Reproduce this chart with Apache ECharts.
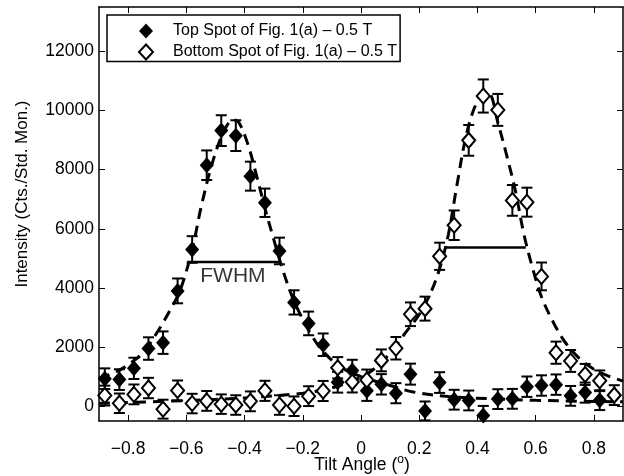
<!DOCTYPE html>
<html>
<head>
<meta charset="utf-8">
<script src="https://cdn.jsdelivr.net/npm/echarts@6/dist/echarts.min.js"></script>
<style>
html,body{margin:0;padding:0;background:#fff;}
#chart{width:624px;height:476px;}
</style>
</head>
<body>
<div id="chart"></div>
<script>
// ---- data ----
var tiltAngles = [-0.88,-0.83,-0.78,-0.73,-0.68,-0.63,-0.58,-0.53,-0.48,-0.43,-0.38,-0.33,-0.28,-0.23,-0.18,-0.13,-0.08,-0.03,0.02,0.07,0.12,0.17,0.22,0.27,0.32,0.37,0.42,0.47,0.52,0.57,0.62,0.67,0.72,0.77,0.82,0.87];

var topSpot = [930,900,1280,1950,2150,3900,5300,8150,9320,9150,7780,6880,5250,3510,2800,2080,810,1210,520,740,440,1085,-160,800,220,195,-310,240,250,660,700,730,350,460,205];
var topErr  = [350,350,360,380,380,420,450,500,520,520,490,480,450,410,400,380,350,360,340,345,340,355,320,350,335,335,320,335,335,345,345,345,335,340,335];

var bottomSpot = [360,100,400,615,-100,530,90,180,70,40,165,520,40,0,340,515,1300,815,890,1550,1960,3110,3300,5070,6120,8990,10490,10020,6960,6900,4390,1810,1530,1075,860,375];
var bottomErr  = [335,330,335,345,320,340,330,335,330,330,335,340,330,330,335,340,360,350,350,370,380,400,405,460,500,520,560,540,520,490,470,375,370,355,350,335];

var fitTopX = [-0.90,-0.85,-0.80,-0.75,-0.70,-0.65,-0.62,-0.58,-0.55,-0.52,-0.49,-0.46,-0.44,-0.42,-0.39,-0.36,-0.33,-0.30,-0.27,-0.24,-0.21,-0.17,-0.13,-0.07,0.00,0.10,0.18,0.30,0.45,0.60,0.75,0.90];
var fitTopY = [950,1120,1400,1800,2500,3350,3950,5300,6700,7900,8850,9500,9680,9600,8900,7850,6700,5650,4650,3800,3130,2400,1850,1330,1000,700,480,330,250,200,170,150];

var fitBottomX = [-0.90,-0.60,-0.40,-0.20,-0.10,0.00,0.05,0.10,0.15,0.20,0.24,0.27,0.30,0.33,0.36,0.39,0.42,0.44,0.47,0.50,0.53,0.56,0.59,0.62,0.66,0.70,0.75,0.80,0.85,0.90];
var fitBottomY = [100,190,280,440,620,980,1300,1800,2450,3100,3850,4650,5800,7500,9100,10100,10620,10600,9600,8500,7300,5800,4650,3700,2850,2180,1620,1250,1020,850];

var fwhmTopX = [-0.597,-0.283];
var fwhmTopY = 4880;
var fwhmBottomX = [0.291,0.566];
var fwhmBottomY = 5370;

var xTicks = [-0.8,-0.6,-0.4,-0.2,0,0.2,0.4,0.6,0.8];
var yTicks = [0,2000,4000,6000,8000,10000,12000];

var topName = 'Top Spot of Fig. 1(a) \u2013 0.5 T';
var bottomName = 'Bottom Spot of Fig. 1(a) \u2013 0.5 T';

// ---- build ----
var FONT = '"Liberation Sans", Arial, Helvetica, sans-serif';
function pairs(xs, ys){ return xs.map(function(x,i){ return [x, ys[i]]; }); }
function triples(xs, ys, es){ return ys.map(function(y,i){ return [xs[i], y, es[i]]; }); }

function errorBarRender(params, api){
  var x = api.value(0), y = api.value(1), e = api.value(2);
  var t = api.coord([x, y + e]);
  var b = api.coord([x, y - e]);
  var hw = 5.5;
  var st = {stroke:'#000', lineWidth:2};
  return {type:'group', children:[
    {type:'line', shape:{x1:t[0], y1:t[1], x2:b[0], y2:b[1]}, style:st},
    {type:'line', shape:{x1:t[0]-hw, y1:t[1], x2:t[0]+hw, y2:t[1]}, style:st},
    {type:'line', shape:{x1:b[0]-hw, y1:b[1], x2:b[0]+hw, y2:b[1]}, style:st}
  ]};
}

function xFmt(v){
  if (Math.abs(v) < 1e-9) return '0';
  return (v < 0 ? '\u2212' : '') + Math.abs(v).toFixed(1);
}

var axisLineStyle = {color:'#000', width:1.5};
var chart = echarts.init(document.getElementById('chart'), null, {renderer:'canvas'});
chart.setOption({
  animation:false,
  backgroundColor:'#fff',
  grid:{left:99, right:1, top:7, bottom:55, containLabel:false},
  xAxis:[{
    type:'value', min:-0.9, max:0.9, position:'bottom',
    axisLine:{show:true, onZero:false, lineStyle:axisLineStyle},
    axisTick:{show:true, inside:true, length:6, customValues:xTicks, lineStyle:{color:'#000', width:1}},
    axisLabel:{show:true, customValues:xTicks, formatter:xFmt, color:'#000', fontSize:17.5, fontFamily:FONT, margin:19},
    splitLine:{show:false}
  },{
    type:'value', min:-0.9, max:0.9, position:'top',
    axisLine:{show:true, onZero:false, lineStyle:axisLineStyle},
    axisTick:{show:true, inside:true, length:6, customValues:xTicks, lineStyle:{color:'#000', width:1}},
    axisLabel:{show:false},
    splitLine:{show:false}
  }],
  yAxis:[{
    type:'value', min:-500, max:13500, position:'left',
    axisLine:{show:true, onZero:false, lineStyle:axisLineStyle},
    axisTick:{show:true, inside:true, length:6, customValues:yTicks, lineStyle:{color:'#000', width:1}},
    axisLabel:{show:true, customValues:yTicks, formatter:function(v){return String(v);}, color:'#000', fontSize:17.5, fontFamily:FONT, margin:5},
    splitLine:{show:false}
  },{
    type:'value', min:-500, max:13500, position:'right',
    axisLine:{show:true, onZero:false, lineStyle:axisLineStyle},
    axisTick:{show:true, inside:true, length:6, customValues:yTicks, lineStyle:{color:'#000', width:1}},
    axisLabel:{show:false},
    splitLine:{show:false}
  }],
  legend:{
    left:107, top:15, orient:'vertical',
    data:[{name:topName, icon:'diamond'},{name:bottomName, icon:'diamond'}],
    itemWidth:14, itemHeight:15, itemGap:4.5,
    padding:[8,3,1,31],
    borderColor:'#000', borderWidth:1.5, backgroundColor:'#fff',
    textStyle:{fontFamily:FONT, fontSize:16, color:'#000', lineHeight:16, padding:[0,0,0,15]},
    selectedMode:false
  },
  graphic:[
    {type:'text', x:22.5, y:194, rotation:Math.PI/2,
     style:{text:'Intensity (Cts./Std. Mon.)', fill:'#000', font:'17px '+FONT, textAlign:'center', textVerticalAlign:'middle'}},
    {type:'text', x:362, y:465,
     style:{text:'Tilt Angle ({s|o})', fill:'#000', font:'17.5px '+FONT, textAlign:'center', textVerticalAlign:'middle',
       rich:{s:{fontSize:12, fontFamily:FONT, verticalAlign:'top', padding:[0,0,10,0]}}}}
  ],
  series:[
    {type:'line', name:'fitTop', data:pairs(fitTopX, fitTopY), smooth:0.35, showSymbol:false, symbol:'none', z:1, silent:true,
     lineStyle:{color:'#000', width:3, type:[11,7]}},
    {type:'line', name:'fitBottom', data:pairs(fitBottomX, fitBottomY), smooth:0.35, showSymbol:false, symbol:'none', z:1, silent:true,
     lineStyle:{color:'#000', width:3, type:[11,7]}},
    {type:'line', name:'fwhmTop', data:pairs(fwhmTopX, [fwhmTopY, fwhmTopY]), showSymbol:false, symbol:'none', z:2, silent:true,
     lineStyle:{color:'#000', width:2.5}},
    {type:'line', name:'fwhmBottom', data:pairs(fwhmBottomX, [fwhmBottomY, fwhmBottomY]), showSymbol:false, symbol:'none', z:2, silent:true,
     lineStyle:{color:'#000', width:2.5}},
    {type:'scatter', name:'fwhmLabel', data:[[(fwhmTopX[0]+fwhmTopX[1])/2, fwhmTopY]], symbolSize:0, z:2, silent:true,
     label:{show:true, position:'bottom', distance:4, formatter:'FWHM', color:'#000', fontSize:21, fontFamily:FONT}},
    {type:'custom', name:'errTop', data:triples(tiltAngles, topSpot, topErr), renderItem:errorBarRender, clip:true, z:2, silent:true},
    {type:'custom', name:'errBottom', data:triples(tiltAngles, bottomSpot, bottomErr), renderItem:errorBarRender, clip:true, z:2, silent:true},
    {type:'scatter', name:topName, data:pairs(tiltAngles, topSpot), symbol:'diamond', symbolSize:[14,16], z:3, clip:true,
     itemStyle:{color:'#000', opacity:1}},
    {type:'scatter', name:bottomName, data:pairs(tiltAngles, bottomSpot), symbol:'diamond', symbolSize:[13,15], z:4, clip:true,
     itemStyle:{color:'#fff', borderColor:'#000', borderWidth:2, opacity:1}}
  ]
});
</script>
</body>
</html>
